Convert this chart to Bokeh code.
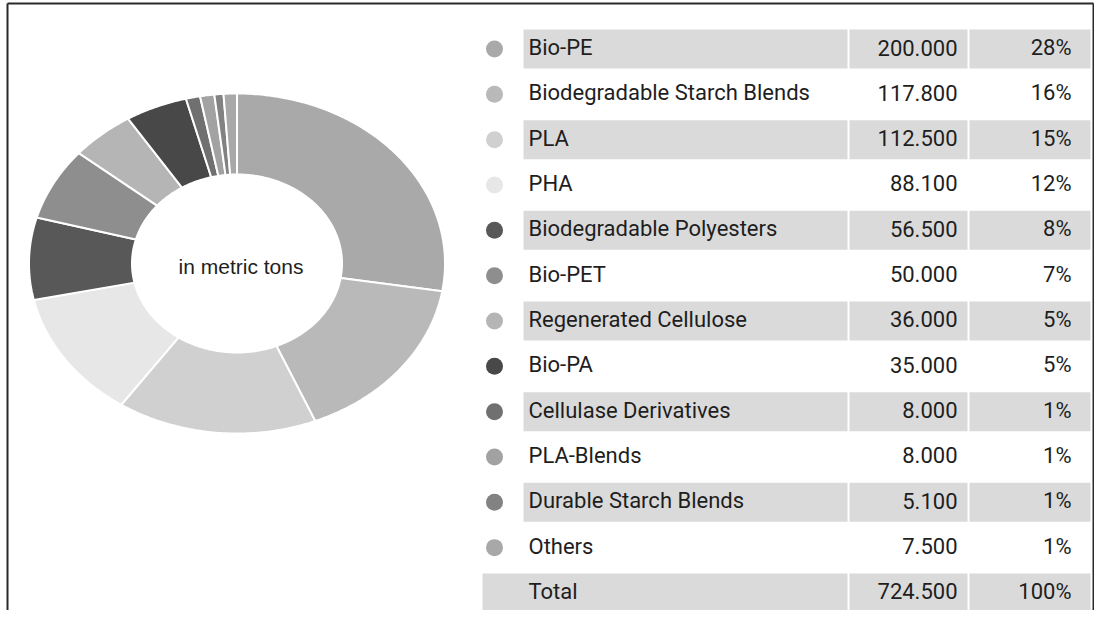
import numpy as np
from bokeh.plotting import figure
from bokeh.models import Range1d, ColumnDataSource
from bokeh.core.properties import value
from bokeh.embed import file_html
from bokeh.resources import INLINE

# ---------------- data ----------------
categories = ["Bio-PE", "Biodegradable Starch Blends", "PLA", "PHA",
              "Biodegradable Polyesters", "Bio-PET", "Regenerated Cellulose",
              "Bio-PA", "Cellulase Derivatives", "PLA-Blends",
              "Durable Starch Blends", "Others"]
tons = [200000, 117800, 112500, 88100, 56500, 50000, 36000, 35000,
        8000, 8000, 5100, 7500]
percent_labels = ["28%", "16%", "15%", "12%", "8%", "7%", "5%", "5%",
                  "1%", "1%", "1%", "1%"]
total_label = "Total"
total_percent = "100%"
colors = ["#a9a9a9", "#b9b9b9", "#d0d0d0", "#e7e7e7", "#585858", "#8e8e8e",
          "#b5b5b5", "#484848", "#707070", "#a2a2a2", "#828282", "#a8a8a8"]
center_label = "in metric tons"

def fmt(v):
    return "{:,}".format(v).replace(",", ".")

# ---------------- figure ----------------
W, H = 1094, 610
p = figure(width=W, height=H, x_range=Range1d(0, W), y_range=Range1d(H, 0),
           output_backend="svg", toolbar_location=None, min_border=0)
p.axis.visible = False
p.grid.visible = False
p.outline_line_color = None
p.background_fill_color = "white"

FONT = value("Roboto")
FS = "22px"
TXT = "#1e1e1e"

# frame
p.segment(x0=[7, 7, 1093], y0=[640, 3, 3], x1=[7, 1093, 1093], y1=[3, 3, 640],
          line_color="#2a2a2a", line_width=2)

# ---------------- donut (elliptical, from cumulative shares) ----------------
cx, cy = 236.5, 263.0
rxo, ryo = 208.0, 170.0
rxi, ryi = 105.0, 89.0
vals = np.array(tons, dtype=float)
cum = np.concatenate([[0], np.cumsum(vals)]) / vals.sum() * 2 * np.pi
xs, ys = [], []
for a0, a1 in zip(cum[:-1], cum[1:]):
    t = np.linspace(a0, a1, max(8, int((a1 - a0) * 80)))
    ox = cx + rxo * np.sin(t); oy = cy - ryo * np.cos(t)
    ix = cx + rxi * np.sin(t[::-1]); iy = cy - ryi * np.cos(t[::-1])
    xs.append(np.concatenate([ox, ix]).tolist())
    ys.append(np.concatenate([oy, iy]).tolist())
p.patches(xs=xs, ys=ys, fill_color=colors, line_color="white", line_width=2)
p.text(x=[cx + 4], y=[cy + 3], text=[center_label], text_align="center",
       text_baseline="middle", text_font=value("Liberation Sans"),
       text_font_size="21px", text_color=TXT)

# ---------------- table ----------------
row0, pitch = 48.5, 45.33
bar_h = 39
n = len(categories)
rows = [row0 + i * pitch for i in range(n)]
total_y = row0 + n * pitch

shaded = [rows[i] for i in range(0, n, 2)]
cols = [(523, 847), (849, 967), (969, 1090)]
for (l, r) in cols:
    p.quad(left=l, right=r, top=[y - bar_h / 2 for y in shaded],
           bottom=[y + bar_h / 2 for y in shaded], fill_color="#dadada", line_color=None)
tot_cols = [(482, 847), (849, 967), (969, 1090)]
for (l, r) in tot_cols:
    p.quad(left=[l], right=[r], top=[total_y - bar_h / 2], bottom=[total_y + bar_h / 2],
           fill_color="#dadada", line_color=None)

# legend dots
p.scatter(x=[494] * n, y=rows, size=17, fill_color=colors, line_color=None)

ty = [y - 1.5 for y in rows]
src = ColumnDataSource(dict(y=ty, name=categories,
                            val=[fmt(v) for v in tons], pct=percent_labels))
common = dict(text_baseline="middle", text_font=FONT, text_font_size=FS, text_color=TXT)
p.text(x=528, y="y", text="name", source=src, text_align="left", **common)
p.text(x=957, y="y", text="val", source=src, text_align="right", **common)
p.text(x=1071, y="y", text="pct", source=src, text_align="right", **common)

p.text(x=[528], y=[total_y - 1.5], text=[total_label], text_align="left", **common)
p.text(x=[957], y=[total_y - 1.5], text=[fmt(sum(tons))], text_align="right", **common)
p.text(x=[1071], y=[total_y - 1.5], text=[total_percent], text_align="right", **common)

open("out.html", "w").write(file_html(p, INLINE))
